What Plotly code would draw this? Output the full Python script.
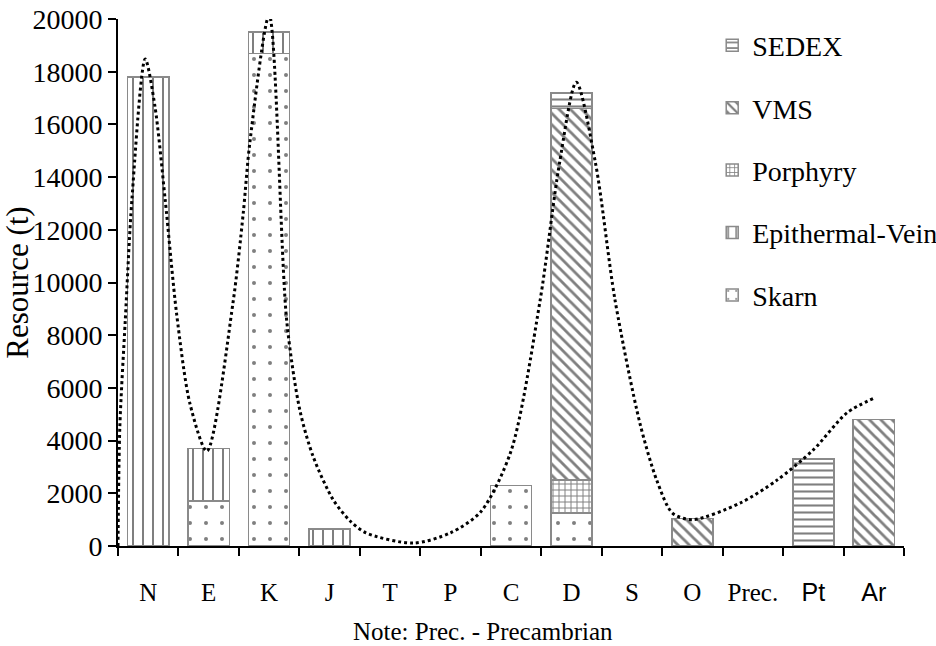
import plotly.graph_objects as go

# ---- data ----
categories = ["N", "E", "K", "J", "T", "P", "C", "D", "S", "O", "Prec.", "Pt", "Ar"]
serif_labels = ["N", "E", "K", "J", "T", "P", "C", "D", "S", "O", "Prec."]
sans_labels = ["Pt", "Ar"]

skarn      = [None, 1700, 18700, None, None, None, 2300, 1250, None, None, None, None, None]
epithermal = [17800, 2000, 800, 650, None, None, None, None, None, None, None, None, None]
porphyry   = [None, None, None, None, None, None, None, 1250, None, None, None, None, None]
vms        = [None, None, None, None, None, None, None, 14100, None, 1050, None, None, 4800]
sedex      = [None, None, None, None, None, None, None, 600, None, None, None, 3300, None]

# trend curve (x in category units)
curve_x = [-0.5, -0.47, -0.38, -0.27, -0.05, 0.11, 0.28, 0.47, 0.69, 0.97,
           1.40, 1.57, 1.68, 2.0, 2.29, 2.51, 2.73, 3.06, 3.34, 3.6, 4.38,
           5.0, 5.5, 6.0, 6.48, 6.8, 7.08, 7.4, 7.72, 8.13, 8.41, 8.67, 9.0,
           9.79, 10.4, 11.0, 11.56, 12.02]
curve_y = [0, 4500, 8550, 13150, 18480, 16700, 13150, 8800, 5400, 3600,
           9200, 12600, 15300, 20150, 8550, 5130, 3380, 1750, 950, 500, 110,
           500, 1300, 3600, 9300, 14500, 17600, 14500, 9340, 4680, 2500, 1250, 1000,
           1630, 2500, 3650, 5060, 5630]

series = [
    # name, values, pattern, size, solidity, legend rank
    ("Skarn", skarn, ".", 16, 0.05, 5),
    ("Epithermal-Vein", epithermal, "|", 10, 0.2, 4),
    ("Porphyry", porphyry, "+", 6, 0.3, 3),
    ("VMS", vms, "\\", 8, 0.35, 2),
    ("SEDEX", sedex, "-", 7, 0.3, 1),
]

SERIF = "Liberation Serif"
SANS = "Liberation Sans"
xpos = list(range(len(categories)))
tick_labels = ([f'<span style="font-family:{SERIF}">{t}</span>' for t in serif_labels]
               + [f'<span style="font-family:{SANS}">{t}</span>' for t in sans_labels])

fig = go.Figure()
for name, vals, shape, size, sol, rank in series:
    fig.add_trace(go.Bar(
        x=xpos, y=vals, name=name, legendgroup=name, legendrank=rank, width=0.68,
        marker=dict(color="white",
                    line=dict(color="#8a8a8a", width=1.5),
                    pattern=dict(shape=shape, size=size, solidity=sol,
                                 fgcolor="#000000", bgcolor="white",
                                 fillmode="overlay")),
    ))

fig.add_trace(go.Scatter(
    x=curve_x, y=curve_y, mode="lines", showlegend=False, cliponaxis=False,
    line=dict(color="black", width=3, dash="dot", shape="spline", smoothing=0.8),
))

fig.update_layout(
    width=936, height=646,
    barmode="stack",
    plot_bgcolor="white", paper_bgcolor="white",
    margin=dict(l=118, r=32, t=19, b=100, autoexpand=False),
    font=dict(family=SERIF, size=24, color="black"),
    legend=dict(x=0.756, y=0.997, xanchor="left", yanchor="top",
                traceorder="grouped", tracegroupgap=23,
                bgcolor="rgba(0,0,0,0)", font=dict(family=SERIF, size=28)),
    xaxis=dict(range=[-0.5, 12.5], tickvals=xpos, ticktext=tick_labels,
               ticks="", showline=True, linecolor="black", linewidth=2,
               showgrid=False, zeroline=False, ticklabelstandoff=23,
               automargin=False,
               tickfont=dict(family=SERIF, size=25),
               minor=dict(tick0=-0.5, dtick=1, ticks="outside", ticklen=8,
                          tickwidth=2, tickcolor="black", showgrid=False)),
    yaxis=dict(range=[0, 20000], tickvals=list(range(0, 20001, 2000)),
               tickformat="d",
               ticks="outside", ticklen=8, tickwidth=2, tickcolor="black",
               showline=True, linecolor="black", linewidth=2,
               showgrid=False, zeroline=False, automargin=False,
               tickfont=dict(family=SERIF, size=28),
               title=dict(text="Resource (t)", font=dict(family=SERIF, size=31),
                          standoff=2)),
    annotations=[dict(text="Note: Prec. - Precambrian", x=0.465, y=-0.163,
                      xref="paper", yref="paper", showarrow=False,
                      yanchor="middle", xanchor="center",
                      font=dict(family=SERIF, size=25))],
)

fig.write_html("out.html", config={"displayModeBar": False},
               post_script="document.body.style.margin='0';")
